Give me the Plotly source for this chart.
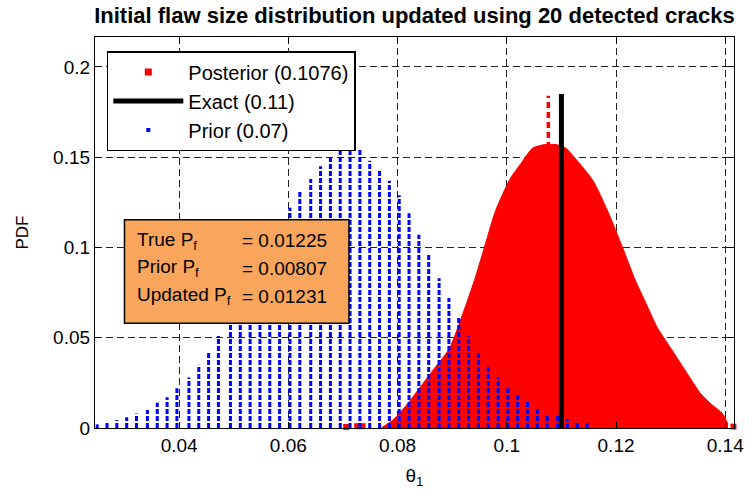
import plotly.graph_objects as go

# ---------------- data ----------------
prior_x = [0.0250, 0.0268, 0.0286, 0.0304, 0.0322, 0.0342, 0.0360, 0.0378, 0.0396, 0.0418,
           0.0436, 0.0454, 0.0472, 0.0494, 0.0512, 0.0530, 0.0548, 0.0566, 0.0584, 0.0603,
           0.0621, 0.0641, 0.0659, 0.0677, 0.0695, 0.0713, 0.0731, 0.0749, 0.0767, 0.0785,
           0.0803, 0.0821, 0.0839, 0.0857, 0.0876, 0.0894, 0.0912, 0.0930, 0.0948, 0.0966,
           0.0984, 0.1002, 0.1020, 0.1038, 0.1056, 0.1074, 0.1093, 0.1111, 0.1129, 0.1147]
prior_pdf = [0.002, 0.003, 0.0045, 0.006, 0.008, 0.010, 0.014, 0.017, 0.022, 0.028,
             0.035, 0.042, 0.051, 0.058, 0.066, 0.075, 0.085, 0.096, 0.110, 0.122,
             0.131, 0.138, 0.145, 0.150, 0.155, 0.158, 0.154, 0.148, 0.143, 0.137,
             0.129, 0.119, 0.107, 0.096, 0.083, 0.072, 0.061, 0.051, 0.042, 0.035,
             0.028, 0.022, 0.018, 0.015, 0.011, 0.008, 0.007, 0.005, 0.004, 0.003]

post_x = [0.0770, 0.0790, 0.0800, 0.0820, 0.0835, 0.0850, 0.0870, 0.0895, 0.0925, 0.0942,
          0.0957, 0.0979, 0.1006, 0.1027, 0.1047, 0.1069, 0.1090, 0.1108, 0.1132, 0.1158,
          0.1185, 0.1212, 0.1235, 0.1255, 0.1275, 0.1305, 0.1335, 0.1355, 0.1375, 0.1395,
          0.1405]
post_pdf = [0.000, 0.004, 0.007, 0.014, 0.020, 0.026, 0.034, 0.044, 0.068, 0.083,
            0.098, 0.120, 0.138, 0.147, 0.155, 0.157, 0.157, 0.155, 0.147, 0.137,
            0.120, 0.1000, 0.082, 0.069, 0.056, 0.042, 0.028, 0.019, 0.013, 0.008,
            0.002]
post_extra_x = [0.0706, 0.0726, 0.0736, 0.0803, 0.0810, 0.1415]
post_extra_y = [0.0006, 0.0010, 0.0010, 0.0035, 0.0035, 0.0008]

posterior_mean = 0.1076
exact_value = 0.11
prior_mean = 0.07
posterior_mean_height = 0.184
exact_height = 0.185

pf_labels = ["True P<sub>f</sub>", "Prior P<sub>f</sub>", "Updated P<sub>f</sub>"]
pf_values = [0.01225, 0.00807, 0.01231]

x_tickvals = [0.04, 0.06, 0.08, 0.10, 0.12, 0.14]
x_ticktext = ["0.04", "0.06", "0.08", "0.1", "0.12", "0.14"]
y_tickvals = [0, 0.05, 0.10, 0.15, 0.20]
y_ticktext = ["0", "0.05", "0.1", "0.15", "0.2"]

title_text = "Initial flaw size distribution updated using 20 detected cracks"

# ---------------- figure ----------------
FONT = "Liberation Sans, Arial, sans-serif"
fig = go.Figure()

# legend entries (order: Posterior, Exact, Prior)
fig.add_trace(go.Scatter(x=[None], y=[None], mode="markers",
                         marker=dict(color="#ff0000", size=7, symbol="square"),
                         name=f"Posterior ({posterior_mean})"))
fig.add_trace(go.Scatter(x=[None], y=[None], mode="lines",
                         line=dict(color="black", width=5),
                         name=f"Exact ({exact_value})"))
fig.add_trace(go.Scatter(x=[None], y=[None], mode="markers",
                         marker=dict(color="#0000ff", size=4, symbol="square"),
                         name=f"Prior ({prior_mean})"))

# posterior cloud (filled under its envelope)
fig.add_trace(go.Scatter(x=post_x, y=post_pdf, mode="lines", fill="tozeroy",
                         line=dict(color="#ff0000", width=1, shape="spline", smoothing=0.6),
                         fillcolor="#ff0000",
                         showlegend=False, hoverinfo="skip"))
fig.add_trace(go.Scatter(x=post_extra_x, y=post_extra_y, mode="markers",
                         marker=dict(color="#ff0000", size=6, symbol="square"),
                         showlegend=False, cliponaxis=False))
# posterior mean dashed marker line
fig.add_trace(go.Scatter(x=[posterior_mean, posterior_mean], y=[0, posterior_mean_height],
                         mode="lines", line=dict(color="#ff0000", width=3.5, dash="6px,4px"),
                         showlegend=False))

# prior columns
px, py = [], []
for xv, hv in zip(prior_x, prior_pdf):
    px += [xv, xv, None]
    py += [0, hv, None]
fig.add_trace(go.Scatter(x=px, y=py, mode="lines",
                         line=dict(color="#0000ff", width=3, dash="5px,2px"),
                         showlegend=False, hoverinfo="skip"))

# exact value
fig.add_trace(go.Scatter(x=[exact_value, exact_value], y=[0, exact_height], mode="lines",
                         line=dict(color="black", width=5), showlegend=False))

# Pf text box
box_x0, box_x1, box_y0, box_y1 = 0.0300, 0.0711, 0.0580, 0.1153
fig.add_shape(type="rect", xref="x", yref="y", x0=box_x0, x1=box_x1, y0=box_y0, y1=box_y1,
              fillcolor="#f9a65c", line=dict(color="black", width=1.5), layer="above")
row_h = (box_y1 - box_y0) / 3.6
for i, (lab, val) in enumerate(zip(pf_labels, pf_values)):
    yy = box_y1 - row_h * (0.72 + i * 0.97)
    fig.add_annotation(x=box_x0 + 0.0020, y=yy, xref="x", yref="y", text=lab,
                       showarrow=False, xanchor="left", yanchor="middle",
                       font=dict(family=FONT, size=19, color="black"))
    fig.add_annotation(x=box_x0 + 0.0212, y=yy, xref="x", yref="y", text=f"= {val:.5f}",
                       showarrow=False, xanchor="left", yanchor="middle",
                       font=dict(family=FONT, size=19, color="black"))

grid = dict(showgrid=True, gridcolor="#222222", gridwidth=1, griddash="7px,4px")
fig.update_xaxes(range=[0.0246, 0.1416], tickvals=x_tickvals, ticktext=x_ticktext,
                 showline=True, linecolor="black", linewidth=1.3, mirror="ticks",
                 ticks="inside", ticklen=6, tickcolor="black", zeroline=False,
                 tickfont=dict(family=FONT, size=19, color="black"),
                 title=dict(text="θ<sub>1</sub>", font=dict(family=FONT, size=19, color="black"),
                            standoff=13),
                 **grid)
fig.update_yaxes(range=[0, 0.2166], tickvals=y_tickvals, ticktext=y_ticktext,
                 showline=True, linecolor="black", linewidth=1.3, mirror="ticks",
                 ticks="inside", ticklen=6, tickcolor="black", zeroline=False,
                 tickfont=dict(family=FONT, size=19, color="black"),
                 title=dict(text="PDF", font=dict(family=FONT, size=17, color="black"),
                            standoff=20),
                 **grid)

fig.update_layout(
    width=756, height=494,
    margin=dict(l=95, r=14, t=37, b=64),
    paper_bgcolor="white", plot_bgcolor="white",
    title=dict(text=title_text, x=0.5, xref="paper", xanchor="center",
               y=1 - 15 / 494, yanchor="middle",
               font=dict(family=FONT, size=22, color="black", weight="bold")),
    legend=dict(x=0.0185, y=0.964, xanchor="left", yanchor="top",
                bgcolor="white", bordercolor="black", borderwidth=1.5,
                font=dict(family=FONT, size=20, color="black"),
                itemwidth=70, tracegroupgap=0),
    showlegend=True,
)

fig.write_html("out.html")
